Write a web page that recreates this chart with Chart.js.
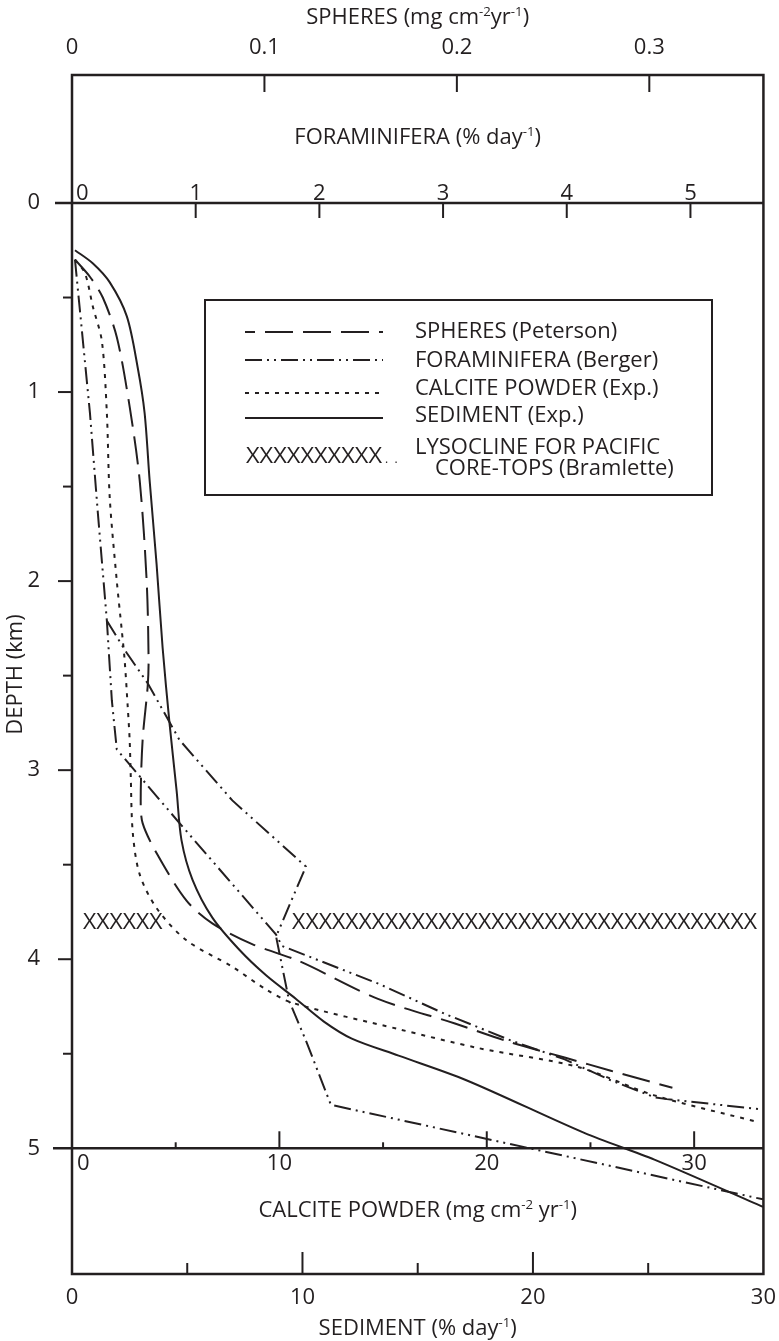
<!DOCTYPE html>
<html>
<head>
  <title>Dissolution rate versus depth</title>
  <script src="https://cdn.jsdelivr.net/npm/chart.js"></script>
  <style>
    body { margin: 0; background: #fff; }
    canvas { display: block; }
  </style>
</head>
<body>

  <canvas id="depthChart" width="779" height="1341"></canvas>

  <script>
    // ---- data ----
    const depthTicks = [0, 0.5, 1, 1.5, 2, 2.5, 3, 3.5, 4, 4.5, 5];
    const spheresTicks = [0, 0.1, 0.2, 0.3];
    const foramTicks = [0, 1, 2, 3, 4, 5];
    const calciteTicks = [0, 5, 10, 15, 20, 25, 30];
    const sedimentTicks = [0, 5, 10, 15, 20, 25, 30];

    // SPHERES (Peterson), mg cm-2 yr-1
    const spheresDepth = [0.30, 0.39, 0.50, 0.71, 1.08, 1.47, 2.00, 2.42, 2.56, 2.84, 3.16, 3.28, 3.44, 3.69, 3.81, 3.92, 4.01, 4.21, 4.34, 4.44, 4.52, 4.59, 4.68];
    const spheresRate = [0.0016, 0.0093, 0.016, 0.0233, 0.030, 0.0352, 0.0388, 0.0398, 0.0393, 0.0367, 0.0357, 0.0367, 0.044, 0.0595, 0.0729, 0.0936, 0.118, 0.159, 0.199, 0.228, 0.256, 0.280, 0.312];

    // FORAMINIFERA (Berger), % day-1 -- two traces
    const foramADepth = [0.30, 1.11, 1.64, 2.21, 2.63, 2.89, 3.28, 3.87, 3.93, 4.13, 4.29, 4.43, 4.53, 4.64, 4.73, 4.74, 4.795];
    const foramARate = [0.024, 0.145, 0.209, 0.282, 0.322, 0.362, 0.869, 1.650, 1.698, 2.479, 3.018, 3.549, 3.984, 4.354, 4.708, 4.81, 5.586];
    const foramBDepth = [2.21, 2.38, 2.54, 2.84, 3.16, 3.51, 3.88, 4.22, 4.43, 4.77, 5.27];
    const foramBRate = [0.282, 0.443, 0.612, 0.869, 1.296, 1.891, 1.650, 1.755, 1.891, 2.093, 5.586];

    // CALCITE POWDER (Exp.), mg cm-2 yr-1
    const calciteDepth = [0.30, 0.37, 0.55, 0.73, 1.11, 1.56, 2.00, 2.26, 2.42, 2.67, 2.84, 3.02, 3.33, 3.55, 3.73, 3.90, 4.04, 4.16, 4.23, 4.37, 4.47, 4.57, 4.72, 4.86];
    const calciteRate = [0.14, 0.62, 1.01, 1.44, 1.68, 1.82, 2.16, 2.40, 2.54, 2.69, 2.78, 2.83, 2.93, 3.26, 4.08, 5.52, 7.73, 9.36, 10.61, 15.75, 19.59, 24.39, 28.08, 33.03];

    // SEDIMENT (Exp.), % day-1
    const sedimentDepth = [0.25, 0.32, 0.42, 0.60, 0.87, 1.11, 1.47, 1.91, 2.35, 2.75, 3.11, 3.37, 3.58, 3.78, 3.95, 4.085, 4.21, 4.33, 4.42, 4.51, 4.64, 4.92, 5.06, 5.31];
    const sedimentRate = [0.13, 0.91, 1.64, 2.38, 2.85, 3.15, 3.37, 3.67, 3.93, 4.23, 4.54, 4.75, 5.23, 6.09, 7.26, 8.42, 9.72, 10.93, 12.14, 14.17, 17.11, 22.25, 25.27, 29.98];

    // lysocline for Pacific core-tops (Bramlette): depth, and runs of X along the sediment axis
    const lysoclineDepth = 3.8;
    const lysoclineRuns = [[0.48, 3.93, 6], [9.55, 29.72, 35]];

    const legendLabels = ['SPHERES (Peterson)', 'FORAMINIFERA (Berger)', 'CALCITE POWDER (Exp.)', 'SEDIMENT (Exp.)'];
    const lysoclineLabel = ['LYSOCLINE FOR PACIFIC', 'CORE-TOPS (Bramlette)'];

    // ---- drawing ----
    const ink = '#231f20';
    const FONT = '"Open Sans", sans-serif';
    const SIZE = 22;

    Chart.defaults.font.family = FONT;
    Chart.defaults.font.size = SIZE;
    Chart.defaults.color = ink;

    const pts = (xs, ys) => xs.map((x, i) => ({ x: x, y: ys[i] }));

    function setFont(ctx, size) { ctx.font = size + 'px ' + FONT; }

    function line(ctx, x1, y1, x2, y2) {
      ctx.beginPath();
      ctx.moveTo(x1, y1);
      ctx.lineTo(x2, y2);
      ctx.stroke();
    }

    // centred text; parts wrapped in [] are superscripts
    function drawRich(ctx, parts, x, y) {
      const items = parts.map(p => Array.isArray(p) ? { t: p[0], sup: true } : { t: p, sup: false });
      let total = 0;
      items.forEach(it => {
        setFont(ctx, it.sup ? SIZE * 0.6 : SIZE);
        it.w = ctx.measureText(it.t).width;
        total += it.w;
      });
      let cx = x - total / 2;
      ctx.textAlign = 'left';
      ctx.textBaseline = 'alphabetic';
      items.forEach(it => {
        setFont(ctx, it.sup ? SIZE * 0.6 : SIZE);
        ctx.fillText(it.t, cx, it.sup ? y - SIZE * 0.36 : y);
        cx += it.w;
      });
    }

    function stretchText(ctx, txt, x1, x2, baseline) {
      const w = ctx.measureText(txt).width;
      ctx.save();
      ctx.translate(x1, baseline);
      ctx.scale((x2 - x1) / w, 1);
      ctx.textAlign = 'left';
      ctx.textBaseline = 'alphabetic';
      ctx.fillText(txt, 0, 0);
      ctx.restore();
    }

    const paperAxes = {
      id: 'paperAxes',
      beforeDatasetsDraw(chart) {
        const { ctx, chartArea: a, scales } = chart;
        const y = scales.y;
        const y0 = y.getPixelForValue(0);
        const y5 = y.getPixelForValue(5);
        const cx = (a.left + a.right) / 2;
        ctx.save();
        ctx.strokeStyle = ink;
        ctx.fillStyle = ink;
        ctx.lineWidth = 2.5;
        ctx.strokeRect(a.left, a.top, a.right - a.left, a.bottom - a.top);
        line(ctx, a.left - 17, y0, a.right, y0);
        line(ctx, a.left - 19, y5, a.right, y5);

        ctx.lineWidth = 2;
        depthTicks.forEach(v => {
          if (v === 0 || v === 5) return;
          const py = y.getPixelForValue(v);
          line(ctx, a.left - (Number.isInteger(v) ? 14 : 9), py, a.left, py);
        });
        spheresTicks.forEach(v => {
          if (v === 0) return;
          const px = scales.xS.getPixelForValue(v);
          line(ctx, px, a.top, px, a.top + 17);
        });

        setFont(ctx, SIZE);
        ctx.textBaseline = 'alphabetic';
        foramTicks.forEach(v => {
          const px = scales.xF.getPixelForValue(v);
          if (v > 0) line(ctx, px, y0, px, y0 + 15);
          ctx.textAlign = v === 0 ? 'left' : 'center';
          ctx.fillText(String(v), v === 0 ? px + 4 : px, y0 - 3);
        });
        calciteTicks.forEach(v => {
          const px = scales.xC.getPixelForValue(v);
          const major = v % 10 === 0;
          if (v > 0) line(ctx, px, y5, px, y5 - (major ? 17 : 6));
          if (major) {
            ctx.textAlign = v === 0 ? 'left' : 'center';
            ctx.fillText(String(v), v === 0 ? px + 5 : px, y5 + 22);
          }
        });
        sedimentTicks.forEach(v => {
          if (v === 0 || v === 30) return;
          const px = scales.xE.getPixelForValue(v);
          line(ctx, px, a.bottom, px, a.bottom - (v % 10 === 0 ? 22 : 11));
        });

        drawRich(ctx, ['SPHERES (mg cm', ['-2'], 'yr', ['-1'], ')'], cx, a.top - 51);
        drawRich(ctx, ['FORAMINIFERA (% day', ['-1'], ')'], cx, y0 - 59);
        drawRich(ctx, ['CALCITE POWDER (mg cm', ['-2'], ' yr', ['-1'], ')'], cx, y5 + 69);
        drawRich(ctx, ['SEDIMENT (% day', ['-1'], ')'], cx, a.bottom + 61);
        ctx.restore();
      },
      afterDatasetsDraw(chart) {
        const { ctx, scales } = chart;
        ctx.save();
        ctx.fillStyle = ink;
        ctx.strokeStyle = ink;
        setFont(ctx, SIZE);

        // lysocline row of X
        const py = scales.y.getPixelForValue(lysoclineDepth);
        lysoclineRuns.forEach(([from, to, n]) => {
          stretchText(ctx, 'X'.repeat(n), scales.xE.getPixelForValue(from), scales.xE.getPixelForValue(to), py + 8);
        });

        // legend box
        const bx = 205, by = 300, bw = 507, bh = 195;
        ctx.fillStyle = '#fff';
        ctx.fillRect(bx, by, bw, bh);
        ctx.fillStyle = ink;
        ctx.lineWidth = 2;
        ctx.strokeRect(bx, by, bw, bh);
        const sampleY = [32, 60, 93, 118];
        const textY = [38, 67, 95, 122];
        const rows = [0, 1, 3, 4];
        rows.forEach((di, i) => {
          const ds = chart.data.datasets[di];
          ctx.setLineDash(ds.borderDash || []);
          ctx.lineDashOffset = i === 0 ? 18 : 0;
          line(ctx, bx + 40, by + sampleY[i], bx + 178, by + sampleY[i]);
          ctx.setLineDash([]);
          setFont(ctx, SIZE);
          ctx.textAlign = 'left';
          ctx.textBaseline = 'alphabetic';
          ctx.fillText(legendLabels[i], bx + 210, by + textY[i]);
        });
        stretchText(ctx, 'XXXXXXXXXX', bx + 41, bx + 177, by + 163);
        setFont(ctx, 12);
        ctx.fillText('.  .', bx + 180, by + 163);
        setFont(ctx, SIZE);
        ctx.fillText(lysoclineLabel[0], bx + 210, by + 154);
        ctx.fillText(lysoclineLabel[1], bx + 230, by + 175);
        ctx.restore();
      }
    };

    const lineStyle = {
      showLine: true,
      borderColor: ink,
      borderWidth: 2,
      pointRadius: 0,
      yAxisID: 'y'
    };

    new Chart(document.getElementById('depthChart'), {
      type: 'scatter',
      data: {
        datasets: [
          { ...lineStyle, label: legendLabels[0], data: pts(spheresRate, spheresDepth), xAxisID: 'xS', borderDash: [28, 10], tension: 0.3 },
          { ...lineStyle, label: legendLabels[1], data: pts(foramARate, foramADepth), xAxisID: 'xF', borderDash: [17, 5, 2, 5, 2, 5], tension: 0 },
          { ...lineStyle, label: legendLabels[1], data: pts(foramBRate, foramBDepth), xAxisID: 'xF', borderDash: [17, 5, 2, 5, 2, 5], tension: 0 },
          { ...lineStyle, label: legendLabels[2], data: pts(calciteRate, calciteDepth), xAxisID: 'xC', borderDash: [4, 6], tension: 0.3 },
          { ...lineStyle, label: legendLabels[3], data: pts(sedimentRate, sedimentDepth), xAxisID: 'xE', tension: 0.3 }
        ]
      },
      options: {
        responsive: false,
        animation: false,
        layout: { padding: { left: 0, right: 12, top: 0, bottom: 0 } },
        plugins: { legend: { display: false }, tooltip: { enabled: false } },
        scales: {
          y: {
            type: 'linear', position: 'left', reverse: true, min: -0.677, max: 5.665,
            afterBuildTicks: s => { s.ticks = depthTicks.map(v => ({ value: v })); },
            afterFit: s => { s.width = 72; },
            ticks: { autoSkip: false, padding: 24, callback: v => Number.isInteger(v) ? String(v) : '' },
            grid: { display: false },
            border: { display: false },
            title: { display: true, text: 'DEPTH (km)', padding: { top: 3, bottom: 0 } }
          },
          xS: {
            type: 'linear', position: 'top', min: 0, max: 0.3593,
            afterBuildTicks: s => { s.ticks = spheresTicks.map(v => ({ value: v })); },
            afterFit: s => { s.height = 75; },
            ticks: { autoSkip: false, maxRotation: 0, padding: 6, callback: v => v === 0 ? '0' : v.toFixed(1) },
            grid: { display: false },
            border: { display: false }
          },
          xE: {
            type: 'linear', position: 'bottom', min: 0, max: 30,
            afterBuildTicks: s => { s.ticks = sedimentTicks.map(v => ({ value: v })); },
            afterFit: s => { s.height = 67; },
            ticks: { autoSkip: false, maxRotation: 0, padding: 3, callback: v => v % 10 === 0 ? String(v) : '' },
            grid: { display: false },
            border: { display: false }
          },
          xF: { type: 'linear', display: false, min: 0, max: 5.59 },
          xC: { type: 'linear', display: false, min: 0, max: 33.34 }
        }
      },
      plugins: [paperAxes]
    });
  </script>
</body>
</html>
